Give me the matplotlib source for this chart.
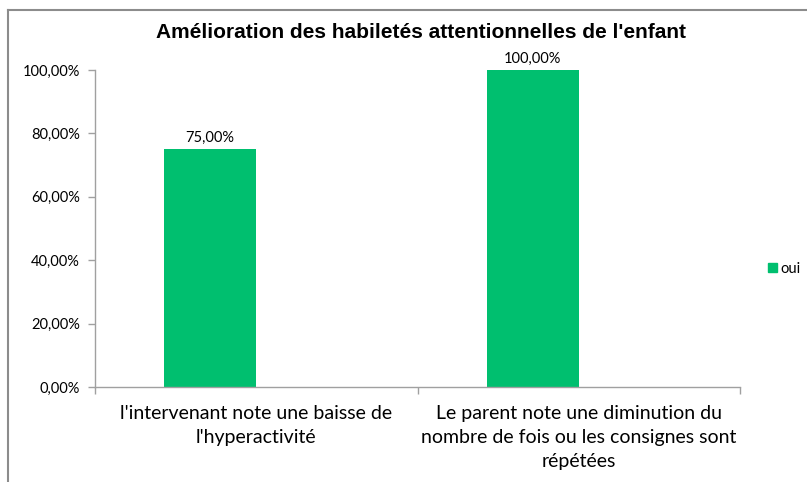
import matplotlib
matplotlib.use("Agg")
import matplotlib.pyplot as plt
from matplotlib.lines import Line2D
from matplotlib.patches import Patch

title = "Amélioration des habiletés attentionnelles de l'enfant"
categories = ["l'intervenant note une baisse de\nl'hyperactivité",
              "Le parent note une diminution du\nnombre de fois ou les consignes sont\nrépétées"]
series_name = "oui"
values = [75.0, 100.0]
yticks = [0, 20, 40, 60, 80, 100]
ytick_labels = ["0,00%", "20,00%", "40,00%", "60,00%", "80,00%", "100,00%"]
bar_labels = ["75,00%", "100,00%"]

W, H = 807, 482
fig = plt.figure(figsize=(W / 100, H / 100), dpi=100)
ax = fig.add_axes([95 / W, 1 - 387 / H, (740 - 95) / W, (387 - 70) / H])

bar_color = "#00BF6F"
width = 1 / 3.5
offset = -width / 2
x = list(range(len(categories)))
bars = ax.bar([xi + offset for xi in x], values, width=width, color=bar_color, label=series_name)

lab_font = ["Lato", "DejaVu Sans"]
for b, t in zip(bars, bar_labels):
    ax.annotate(t, (b.get_x() + b.get_width() / 2, b.get_height()), xytext=(0, 3),
                textcoords="offset points", ha="center", va="bottom",
                fontsize=10.5, family=lab_font, color="#000000")

ax.set_xlim(-0.5, len(categories) - 0.5)
ax.set_ylim(0, 100)
ax.set_yticks(yticks)
ax.set_yticklabels(ytick_labels, family=lab_font, fontsize=10.5)

# category boundary ticks
ax.set_xticks([i - 0.5 for i in range(len(categories) + 1)])
ax.set_xticklabels([""] * (len(categories) + 1))
ax.tick_params(axis="x", length=5, color="#A0A0A0", width=1)
ax.tick_params(axis="y", length=5, color="#A0A0A0", width=1, pad=6)
for i, c in enumerate(categories):
    ax.text(i, -0.058, c, transform=ax.get_xaxis_transform(), ha="center", va="top",
            fontsize=14, family=lab_font, linespacing=1.5)

for s in ["top", "right"]:
    ax.spines[s].set_visible(False)
for s in ["left", "bottom"]:
    ax.spines[s].set_color("#A0A0A0")
    ax.spines[s].set_linewidth(1)

fig.text(421 / W, 1 - 33 / H, title, ha="center", va="center", fontsize=15,
         fontweight="bold", family=["Liberation Sans", "DejaVu Sans"])

leg = fig.legend(handles=[Patch(color=bar_color, label=series_name)],
                 loc="center left", bbox_to_anchor=(761 / W, 1 - 269 / H),
                 frameon=False, prop={"family": lab_font, "size": 10.5},
                 handlelength=0.6, handleheight=0.6, handletextpad=0.25, borderpad=0)

# outer chart border (partially visible)
fig.add_artist(Line2D([8 / W, 1], [1 - 10 / H, 1 - 10 / H], transform=fig.transFigure,
                      color="#8C8C8C", lw=1.5))
fig.add_artist(Line2D([8 / W, 8 / W], [0, 1 - 10 / H], transform=fig.transFigure,
                      color="#8C8C8C", lw=1.5))

fig.savefig("out.png", dpi=100, facecolor="white")
